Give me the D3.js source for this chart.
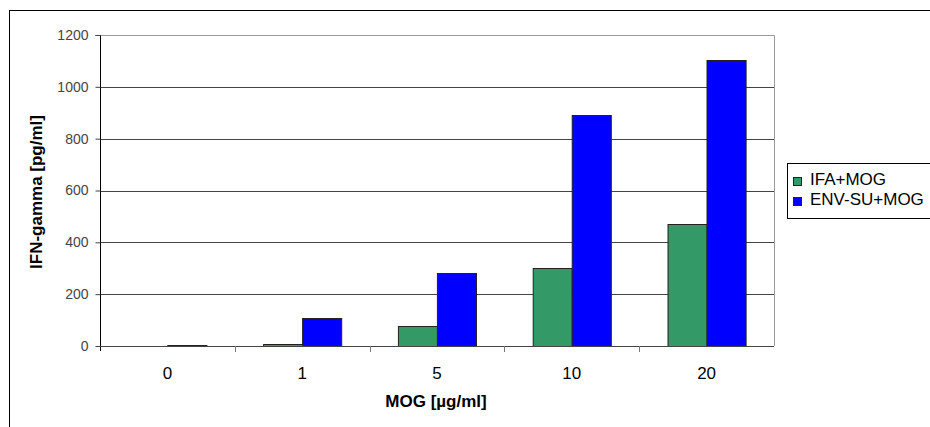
<!DOCTYPE html>
<html>
<meta charset="utf-8">
<script src="https://d3js.org/d3.v7.min.js"></script>
<style>
    body { margin: 0; background: #fff; }
    text { font-family: "Liberation Sans", Arial, sans-serif; }
</style>
<body>
    <svg width="930" height="427"></svg>
    <script>
        // data
        const categories = ["0", "1", "5", "10", "20"];
        const seriesNames = ["IFA+MOG", "ENV-SU+MOG"];
        const ifaMog = [0, 8, 77, 300, 471];
        const envSuMog = [3, 107, 280, 893, 1105];
        const yTicks = [0, 200, 400, 600, 800, 1000, 1200];
        const colors = ["#339966", "#0000ff"];

        let svg = d3.select("svg"),
            margin = { top: 35, left: 100 },
            width = 674,
            height = 311;

        // outer frame (runs off the picture on the right and bottom)
        svg.append("rect")
            .attr("x", 9.5).attr("y", 10.5)
            .attr("width", 940).attr("height", 440)
            .style("fill", "none").style("stroke", "#000");

        let x = d3.scaleBand().domain(categories).range([0, width]).paddingInner(0.42).paddingOuter(0.21),
            x1 = d3.scaleBand().domain(d3.range(seriesNames.length)).range([0, x.bandwidth()]),
            y = d3.scaleLinear().domain([0, 1200]).range([height, 0]);

        let g = svg.append("g").attr("transform", `translate(${margin.left},${margin.top})`);

        // plot area border, top and right
        g.append("path")
            .attr("d", `M0,0.5H${width + 0.5}V${height}`)
            .style("fill", "none").style("stroke", "#999");

        // gridlines
        g.selectAll("line.grid")
            .data(yTicks.filter(d => d > 0 && d < 1200))
            .enter().append("line")
            .attr("class", "grid")
            .attr("x1", 0).attr("x2", width)
            .attr("y1", d => Math.round(y(d)) + 0.5).attr("y2", d => Math.round(y(d)) + 0.5)
            .style("stroke", "#444");

        // bars
        const rows = categories.map((c, i) => ({ cat: c, values: [ifaMog[i], envSuMog[i]] }));
        g.selectAll("g.group")
            .data(rows)
            .enter().append("g")
            .attr("class", "group")
            .attr("transform", d => `translate(${x(d.cat)},0)`)
            .selectAll("rect")
            .data(d => d.values.map((v, k) => ({ k, v })).filter(e => e.v > 0))
            .enter().append("rect")
            .attr("x", d => Math.round(x1(d.k)) + 0.5)
            .attr("y", d => Math.round(y(d.v)) + 0.5)
            .attr("width", x1.bandwidth())
            .attr("height", d => Math.max(1, Math.round(height - y(d.v))))
            .style("fill", d => colors[d.k])
            .style("stroke", "#222").style("stroke-width", "1px");

        // y axis
        let yAxis = g.append("g")
            .attr("transform", "translate(0.5,0)")
            .call(d3.axisLeft(y).tickValues(yTicks).tickSize(5).tickPadding(7).tickFormat(d3.format("d")));
        yAxis.select(".domain").attr("d", `M-5,0.5H0V${height + 5}`).style("stroke", "#000");
        yAxis.selectAll(".tick line").style("stroke", "#444");
        yAxis.selectAll(".tick text")
            .style("font-size", "14px").style("fill", "#444");

        // x axis
        let xAxisG = g.append("g").attr("transform", `translate(0,${height})`);
        xAxisG.append("line")
            .attr("x1", 0).attr("x2", width).attr("y1", 0.5).attr("y2", 0.5)
            .style("stroke", "#444");
        xAxisG.selectAll("line.sep")
            .data(categories.slice(1))
            .enter().append("line")
            .attr("class", "sep")
            .attr("x1", d => Math.round(x(d) - x.step() * x.paddingInner() / 2) + 0.5)
            .attr("x2", d => Math.round(x(d) - x.step() * x.paddingInner() / 2) + 0.5)
            .attr("y1", 0).attr("y2", 6)
            .style("stroke", "#777");
        xAxisG.selectAll("text.cat")
            .data(categories)
            .enter().append("text")
            .attr("class", "cat")
            .attr("x", d => x(d) + x.bandwidth() / 2)
            .attr("y", 33)
            .attr("text-anchor", "middle")
            .style("font-size", "17px").style("fill", "#000")
            .text(d => d);

        // axis titles
        svg.append("text")
            .attr("x", 436).attr("y", 407)
            .attr("text-anchor", "middle")
            .style("font-size", "17px").style("font-weight", "bold")
            .text("MOG [µg/ml]");
        svg.append("text")
            .attr("transform", "translate(42,192) rotate(-90)")
            .attr("text-anchor", "middle")
            .style("font-size", "17px").style("font-weight", "bold")
            .text("IFN-gamma [pg/ml]");

        // legend
        let legend = svg.append("g").attr("transform", "translate(787,163)");
        legend.append("rect")
            .attr("x", 0.5).attr("y", 0.5).attr("width", 160).attr("height", 55)
            .style("fill", "#fff").style("stroke", "#000");
        let items = legend.selectAll("g.item")
            .data(seriesNames)
            .enter().append("g")
            .attr("class", "item")
            .attr("transform", (d, i) => `translate(0,${22 + i * 20})`);
        items.append("rect")
            .attr("x", 6.5).attr("y", -7.5).attr("width", 8).attr("height", 8)
            .style("fill", (d, i) => colors[i]).style("stroke", "#222");
        items.append("text")
            .attr("x", 23).attr("y", 0)
            .style("font-size", "17px")
            .text(d => d);
    </script>
</body>
</html>
